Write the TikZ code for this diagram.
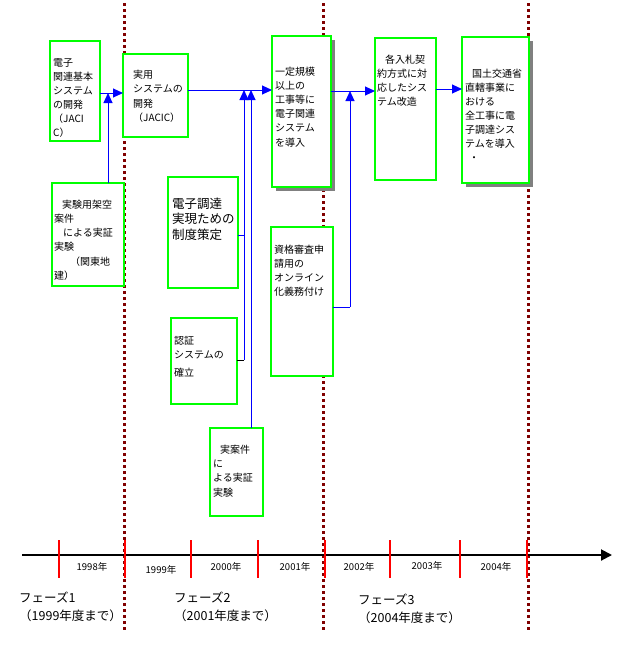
\documentclass[tikz,border=0pt]{standalone}
\usepackage{fontspec}
\setmainfont{Noto Sans CJK JP}
\usetikzlibrary{arrows.meta,shadows}
\definecolor{boxgreen}{HTML}{00FF00}
\definecolor{dotred}{HTML}{800000}
\definecolor{linkblue}{HTML}{0000FF}
\definecolor{tickred}{HTML}{FF0000}
\definecolor{shadowgray}{HTML}{808080}
\begin{document}
\begin{tikzpicture}[x=1pt,y=-1pt,
  box/.style={draw=boxgreen,line width=1.2pt,fill=white,inner sep=0pt,outer sep=0pt,anchor=north west},
  shadowed/.style={drop shadow={shadow xshift=4pt,shadow yshift=-4pt,fill=shadowgray,opacity=1}},
  txt/.style={anchor=base west,inner sep=0pt,align=left,font=\fontsize{10}{14}\selectfont},
  conn/.style={draw=linkblue,line width=1pt},
  arr/.style={conn,-{Triangle[length=10pt,width=9pt]}},
  phaseline/.style={draw=dotred,line width=3pt,dash pattern=on 3pt off 3pt},
  tick/.style={draw=tickred,line width=1.5pt},
  yearlbl/.style={inner sep=0pt,font=\fontsize{9.5}{9.5}\selectfont},
  phaselbl/.style={anchor=west,inner sep=0pt,align=left,font=\fontsize{12.5}{18.5}\selectfont}]
\useasboundingbox (0,0) rectangle (618,649);
% phase separators
\coordinate (p1t) at (124,3); \coordinate (p1b) at (124,630);
\coordinate (p2t) at (323,3); \coordinate (p2b) at (323,630);
\coordinate (p3t) at (528,3); \coordinate (p3b) at (528,630);
\draw[phaseline] (p1t) -- (p1b);
\draw[phaseline] (p2t) -- (p2b);
\draw[phaseline] (p3t) -- (p3b);
% boxes
\node[box,minimum width=50pt,minimum height=100pt] (b1) at (50,41) {};
\node[box,minimum width=65pt,minimum height=83pt] (b2) at (123,54) {};
\node[box,shadowed,minimum width=59pt,minimum height=151pt] (b3) at (272,36) {};
\node[box,minimum width=61pt,minimum height=142pt] (b4) at (375,38) {};
\node[box,shadowed,minimum width=67pt,minimum height=146pt] (b5) at (462,37) {};
\node[box,minimum width=72pt,minimum height=103pt] (b6) at (52,183) {};
\node[box,minimum width=70pt,minimum height=111pt] (b7) at (168,177) {};
\node[box,minimum width=66pt,minimum height=86pt] (b8) at (171,318) {};
\node[box,minimum width=53pt,minimum height=88pt] (b9) at (210,428) {};
\node[box,minimum width=62pt,minimum height=149pt] (b10) at (271,227) {};
% texts (anchored at the baseline of their last line)
\node[txt] (t1) at (53,136) {電子\\関連基本\\システム\\の開発\\（JACI\\C）};
\node[txt,font=\fontsize{10}{14.5}\selectfont] (t2) at (133,121.5) {実用\\システムの\\開発\\（JACIC）};
\node[txt,font=\fontsize{10}{14.2}\selectfont] (t3) at (275,146) {一定規模\\以上の\\工事等に\\電子関連\\システム\\を導入};
\node[txt] (t4) at (377,105) {\hspace{8pt}各入札契\\約方式に対\\応したシス\\テム改造};
\node[txt] (t5) at (465,161) {\hspace{7pt}国土交通省\\直轄事業に\\おける\\全工事に電\\子調達シス\\テムを導入\\\hspace{4pt}・};
\node[txt,font=\fontsize{10}{14.3}\selectfont] (t6) at (54,279.5) {\hspace{8pt}実験用架空\\案件\\\hspace{9pt}による実証\\実験\\\hspace{16pt}（関東地\\建）};
\node[txt,font=\fontsize{12.5}{15.5}\selectfont] (t7) at (172,239) {電子調達\\実現ための\\制度策定};
\node[txt] (t8) at (174,376) {認証\\システムの\\[4pt]確立};
\node[txt,font=\fontsize{10}{14.3}\selectfont] (t9) at (213,496) {\hspace{7pt}実案件\\に\\よる実証\\実験};
\node[txt] (t10) at (274,295) {資格審査申\\請用の\\オンライン\\化義務付け};
% connectors
\coordinate (j7) at (244,235);
\coordinate (j8) at (244,360);
\coordinate (j10) at (350,307);
\draw[arr] (b1.east |- 0,93) -- (b2.west |- 0,93);
\draw[arr] (b6.north -| 108,0) -- (108,93);
\draw[arr] (b2.east |- 0,90) -- (b3.west |- 0,90);
\draw[conn] (b7.east |- j7) -- (j7);
\draw[conn] (j8) -- (j7);
\draw[arr] (j7) -- (244,90);
\draw[line width=1pt] (b8.east |- j8) -- (j8);
\draw[arr] (b9.north -| 251,0) -- (251,90);
\draw[arr] (b3.east |- 0,91) -- (b4.west |- 0,91);
\draw[conn] (b10.east |- j10) -- (j10);
\draw[arr] (j10) -- (350,91);
\draw[arr] (b4.east |- 0,89) -- (b5.west |- 0,89);
% timeline
\coordinate (axL) at (22,555);
\coordinate (axR) at (612,555);
\draw[line width=2pt,-{Triangle[length=11pt,width=11pt]}] (axL) -- (axR);
\foreach \x in {59,125,191,258,325,390,460,527} {
  \draw[tick] (\x,540) -- (\x,578);
}
\node[yearlbl] (y98) at (92,567) {1998年};
\node[yearlbl] (y99) at (161,570) {1999年};
\node[yearlbl] (y00) at (226,567) {2000年};
\node[yearlbl] (y01) at (295,567) {2001年};
\node[yearlbl] (y02) at (359,567) {2002年};
\node[yearlbl] (y03) at (427,566) {2003年};
\node[yearlbl] (y04) at (496,567) {2004年};
\node[phaselbl] (ph1) at (19,607) {フェーズ1\\（1999年度まで）};
\node[phaselbl] (ph2) at (174,607) {フェーズ2\\（2001年度まで）};
\node[phaselbl] (ph3) at (358,609) {フェーズ3\\（2004年度まで）};
\end{tikzpicture}
\end{document}
